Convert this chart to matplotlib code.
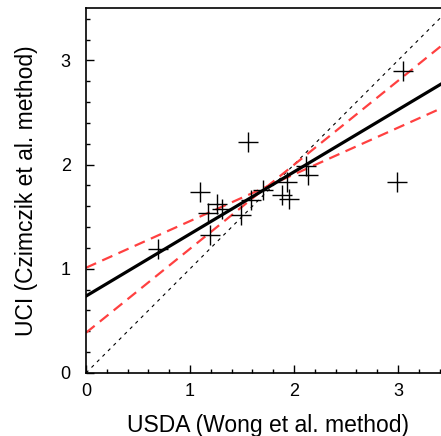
import matplotlib
matplotlib.use("Agg")
import matplotlib.pyplot as plt
from matplotlib.ticker import MultipleLocator

plt.rcParams['font.family'] = ['Liberation Sans', 'DejaVu Sans']

usda = [0.69, 1.10, 1.19, 1.17, 1.26, 1.31, 1.49, 1.56, 1.59, 1.70,
        1.88, 1.93, 1.95, 2.12, 2.13, 2.99, 3.05]
uci = [1.19, 1.74, 1.32, 1.54, 1.62, 1.57, 1.52, 2.22, 1.66, 1.76,
       1.71, 1.83, 1.67, 1.99, 1.90, 1.83, 2.90]

# fit line and its bounds: (intercept, slope)
fit = (0.738, 0.596)
band_lo = (1.01, 0.448)
band_hi = (0.386, 0.806)

xmax = 3.5
ymax = 3.5
xs = [0, xmax]

fig = plt.figure(figsize=(4.41, 4.36), dpi=100)
# axes runs a bit past the right edge of the image, as in the original
ax = fig.add_axes([0.195, 0.1445, 0.8254, 0.8365])

ax.plot([0, ymax], [0, ymax], color='black', lw=0.8, dashes=(3, 4))
for b in (band_lo, band_hi):
    ax.plot(xs, [b[0] + b[1] * x for x in xs], color='#ff4040', lw=1.6, dashes=(5, 3))
ax.plot(xs, [fit[0] + fit[1] * x for x in xs], color='black', lw=2.3)
ax.plot(usda, uci, linestyle='none', marker='+', markersize=15,
        markeredgewidth=1.0, color='black')

ax.set_xlim(0, xmax)
ax.set_ylim(0, ymax)
ax.xaxis.set_major_locator(MultipleLocator(1))
ax.xaxis.set_minor_locator(MultipleLocator(0.2))
ax.yaxis.set_major_locator(MultipleLocator(1))
ax.yaxis.set_minor_locator(MultipleLocator(0.2))
ax.tick_params(which='both', direction='in', labelsize=13, width=1)
ax.tick_params(which='major', length=6)
ax.tick_params(which='minor', length=3)
ax.tick_params(axis='x', which='major', pad=7)
ax.tick_params(axis='y', which='major', pad=11)
for s in ax.spines.values():
    s.set_linewidth(1.2)

ax.set_xlabel('USDA (Wong et al. method)', fontsize=16.5, labelpad=10)
ax.set_ylabel('UCI (Czimczik et al. method)', fontsize=16.5, labelpad=16)

fig.savefig('out.png', dpi=100)
